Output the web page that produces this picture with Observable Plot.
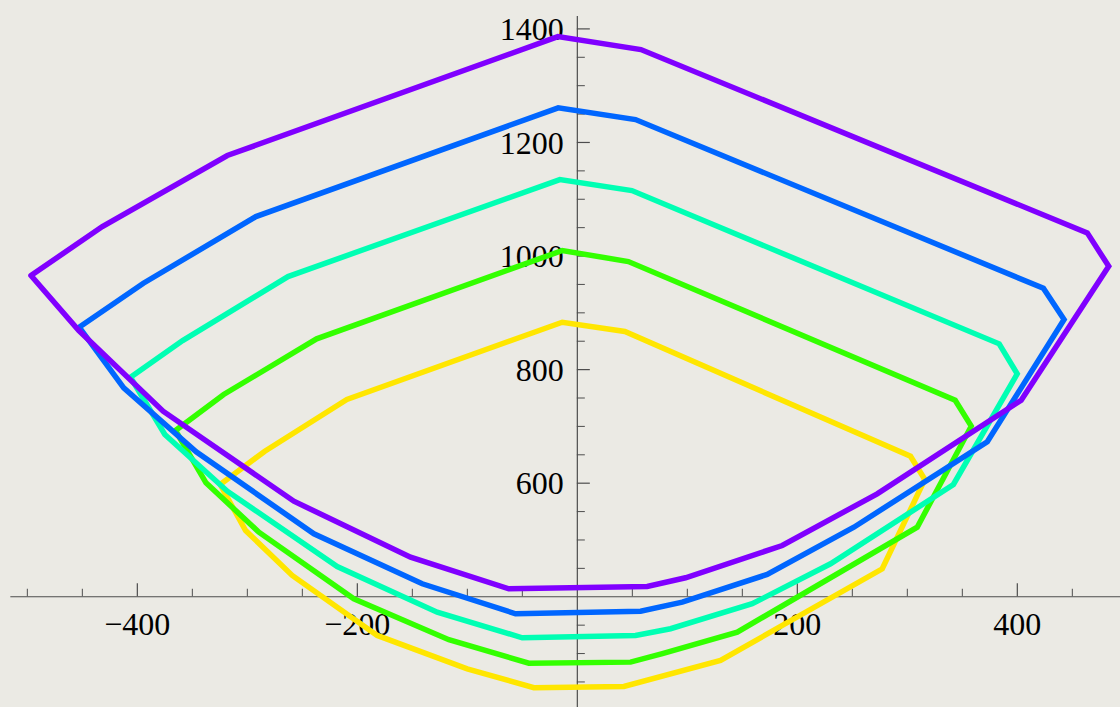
<!DOCTYPE html>
<html>
<head>
<meta charset="utf-8">
<script src="https://cdn.jsdelivr.net/npm/d3@7"></script>
<script src="https://cdn.jsdelivr.net/npm/@observablehq/plot@0.6"></script>
<style>
  html, body { margin: 0; padding: 0; background: #ebeae4; }
  #chart svg { display: block; }
</style>
</head>
<body>
<div id="chart"></div>
<script>
// ---- data (closed outlines) ----
const purple = [[-496.7,965.7],[-431.8,1051.9],[-318.2,1177],[-17.7,1386.4],[57.8,1363.6],[463.6,1040.8],[483.1,982],[403.5,746.1],[272.6,581.3],[186.3,490.3],[98.4,433.4],[63.5,418.1],[-62.3,414.1],[-151.6,469.7],[-257.7,568.3],[-376.6,726.8],[-453.2,868.8]];
const blue = [[-452.9,874.7],[-394.5,952.1],[-292.2,1069.5],[-17.4,1260.9],[52.9,1240.3],[423.7,943.3],[442.5,888.2],[372.7,672.9],[251.4,522.5],[172.6,439.3],[95.4,390.5],[57.5,374.6],[-56.2,370.1],[-141,422.9],[-239.5,510.9],[-346.5,655.3],[-412.4,768]];
const cyan = [[-406.2,786.6],[-358.8,851.2],[-263,963.9],[-15.9,1134.7],[49.6,1115.3],[383.5,845.4],[399.9,792.6],[341.9,597.7],[230.2,458.1],[159,387.7],[84.7,343.7],[52.9,331.9],[-50.1,327.8],[-127.4,372.9],[-218.3,453.3],[-318.2,585.9],[-375,685.7]];
const green = [[-365.3,692.8],[-321.5,756.2],[-237,854.2],[-13.7,1009.7],[46.4,990.3],[343.5,746.1],[358.1,700.4],[309,522.5],[145.4,337.7],[77.3,300],[48.4,284.9],[-44.1,283],[-116.8,324.3],[-203.2,396.5],[-289.5,513.7],[-337.6,600.7]];
const yellow = [[-324.7,597.7],[-284.1,656.3],[-209.5,747.4],[-13.7,883.5],[43.2,867.1],[302.9,647.5],[315.9,606.5],[277.2,449.3],[130.2,287.9],[42.3,242],[-39.5,239.8],[-100.1,273.2],[-181.9,331.9],[-259.2,437.5],[-301.6,516.7]];

const seriesNames = ["yellow", "green", "cyan", "blue", "purple"];   // drawing order
const seriesData = [yellow, green, cyan, blue, purple];
const seriesColors = ["#ffe600", "#33ff00", "#00ffb3", "#0066ff", "#8000ff"];

const xTickLabels = [-400, -200, 200, 400];
const yTickLabels = [600, 800, 1000, 1200, 1400];
const xMinorTicks = [-500,-450,-350,-300,-250,-150,-100,-50,50,100,150,250,300,350,450];
const yMinorTicks = [250,300,350,450,500,550,650,700,750,850,900,950,1050,1100,1150,1250,1300,1350];

const axisOrigin = [0, 400];
const xDomain = [-524.4, 493.8];
const yDomain = [205, 1450];
const xAxisStart = -515;
const yAxisTop = 1422;

// ---- build table ----
const table = [];
seriesData.forEach((pts, k) => {
  const ring = pts.concat([pts[0]]);
  ring.forEach(([x, y], i) => table.push({series: seriesNames[k], x, y, i}));
});

const fmt = d => d < 0 ? "\u2212" + Math.abs(d) : String(d);
const axisColor = "#4d4d4d";
const font = "'Liberation Serif', 'Times New Roman', serif";

const marks = [
  // axes
  Plot.ruleY([axisOrigin[1]], {x1: xAxisStart, x2: xDomain[1], stroke: axisColor, strokeWidth: 1.2}),
  Plot.ruleX([axisOrigin[0]], {y1: yDomain[0], y2: yAxisTop, stroke: axisColor, strokeWidth: 1.2}),
  // x ticks (upwards)
  Plot.ruleX(xTickLabels, {x: d => d, y1: axisOrigin[1], y2: axisOrigin[1], insetTop: -13, stroke: axisColor, strokeWidth: 1.2}),
  Plot.ruleX(xMinorTicks, {x: d => d, y1: axisOrigin[1], y2: axisOrigin[1], insetTop: -7.5, stroke: axisColor, strokeWidth: 1}),
  // y ticks (rightwards)
  Plot.ruleY(yTickLabels, {y: d => d, x1: axisOrigin[0], x2: axisOrigin[0], insetRight: -13, stroke: axisColor, strokeWidth: 1.2}),
  Plot.ruleY(yMinorTicks, {y: d => d, x1: axisOrigin[0], x2: axisOrigin[0], insetRight: -8, stroke: axisColor, strokeWidth: 1}),
  // tick labels
  Plot.text(xTickLabels, {x: d => d, y: axisOrigin[1], text: fmt, dy: 28, fontSize: 32, fontFamily: font, fill: "#000", textAnchor: "middle"}),
  Plot.text(yTickLabels, {x: axisOrigin[0], y: d => d, text: fmt, dx: -13.5, dy: 1, fontSize: 32, fontFamily: font, fill: "#000", textAnchor: "end"})
];

seriesNames.forEach((name, k) => {
  marks.push(Plot.line(table.filter(d => d.series === name), {
    x: "x", y: "y", stroke: seriesColors[k], strokeWidth: 5.5,
    strokeLinejoin: "miter", strokeMiterlimit: 6, curve: "linear"
  }));
});

const chart = Plot.plot({
  width: 1120,
  height: 707,
  margin: 0,
  x: {domain: xDomain, axis: null},
  y: {domain: yDomain, axis: null},
  style: {background: "#ebeae4", overflow: "hidden"},
  marks
});
document.getElementById("chart").appendChild(chart);
</script>
</body>
</html>
